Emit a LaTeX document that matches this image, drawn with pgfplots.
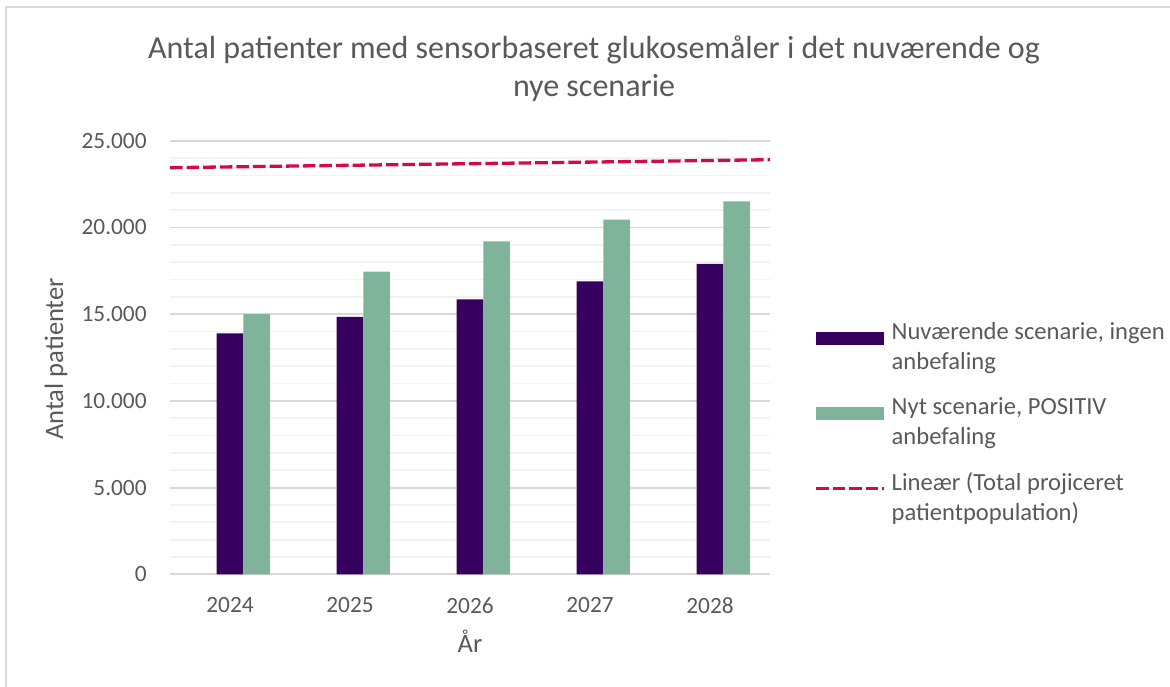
\documentclass[border=0pt]{standalone}
\usepackage{fontspec}
\setmainfont{Carlito}
\usepackage{pgfplots}
\usepackage{pgfplotstable}
\pgfplotsset{compat=1.18}

\definecolor{txt}{HTML}{595959}
\definecolor{nuv}{HTML}{36005E}
\definecolor{nyt}{HTML}{80B49A}
\definecolor{lin}{HTML}{D10A4A}
\definecolor{majgrid}{HTML}{D9D9D9}
\definecolor{mingrid}{HTML}{F2F2F2}

\tikzset{trend/.style={draw=lin, line width=1.65pt, dash pattern=on 6.3pt off 2pt}}

% patienter pr. år
\pgfplotstableread{
x nuv nyt
0 13900 15000
1 14850 17450
2 15850 19200
3 16900 20450
4 17900 21500
}\scenarier

\begin{document}
\begin{tikzpicture}
\useasboundingbox (-85pt,-55.85pt) rectangle (500pt,287.15pt);
\draw[majgrid, line width=1pt] (-82pt,-80pt) -- (-82pt,283.6pt) -- (520pt,283.6pt);
\begin{axis}[
  at={(0,0)}, anchor=south west,
  scale only axis, width=300pt, height=216.75pt,
  xmin=-0.5, xmax=4.5, ymin=0, ymax=25000,
  xtick={0,...,4}, xticklabels={2024,2025,2026,2027,2028},
  ytick={0,5000,...,25000},
  minor y tick num=4,
  ymajorgrids, yminorgrids,
  major grid style={draw=majgrid, line width=0.9pt},
  minor grid style={draw=mingrid, line width=0.9pt},
  axis line style={draw=none},
  tick style={draw=none},
  scaled y ticks=false,
  /pgf/number format/1000 sep={.},
  /pgf/number format/assume math mode=true,
  tick label style={font=\fontsize{11.66pt}{14pt}\selectfont, text=txt},
  yticklabel style={anchor=east, inner sep=0pt, xshift=-11.5pt},
  xticklabel style={anchor=north, inner sep=0pt, yshift=-11.35pt},
  title={Antal patienter med sensorbaseret glukosemåler i det nuværende og\\nye scenarie},
  title style={at={(0.7067,1.138)}, anchor=center, align=center,
    font=\fontsize{16pt}{19pt}\selectfont, text=txt},
  ylabel={Antal patienter},
  ylabel style={at={(-0.19,0.497)}, anchor=center,
    font=\fontsize{13.3pt}{16pt}\selectfont, text=txt},
  xlabel={År},
  xlabel style={at={(0.5,-0.154)}, anchor=center,
    font=\fontsize{13.3pt}{16pt}\selectfont, text=txt},
  legend cell align=left,
  legend style={at={(1.0733,0.349)}, anchor=west, draw=none, fill=none,
    inner sep=0pt, row sep=12.5pt, column sep=3pt,
    font=\fontsize{12.3pt}{15pt}\selectfont, text=txt,
    nodes={align=left, inner sep=0pt}},
]
\addplot[ybar, bar width=0.2222, bar shift=0, fill=nuv, draw=none,
  legend image code/.code={\fill[nuv] (0pt,1.5pt) rectangle (34pt,8pt);}]
  table[x=x, y=nuv] {\scenarier};
\addlegendentry{Nuværende scenarie, ingen\\anbefaling}
\addplot[ybar, bar width=0.2222, bar shift=0.2222, fill=nyt, draw=none,
  legend image code/.code={\fill[nyt] (0pt,1.5pt) rectangle (34pt,8pt);}]
  table[x=x, y=nyt] {\scenarier};
\addlegendentry{Nyt scenarie, POSITIV\\anbefaling}
\addplot[trend,
  legend image code/.code={\draw[trend] (0pt,4.75pt) -- (34pt,4.75pt);}]
  coordinates {(-0.5,23450) (4.5,23910)};
\addlegendentry{Lineær (Total projiceret\\patientpopulation)}
\end{axis}
\end{tikzpicture}
\end{document}
